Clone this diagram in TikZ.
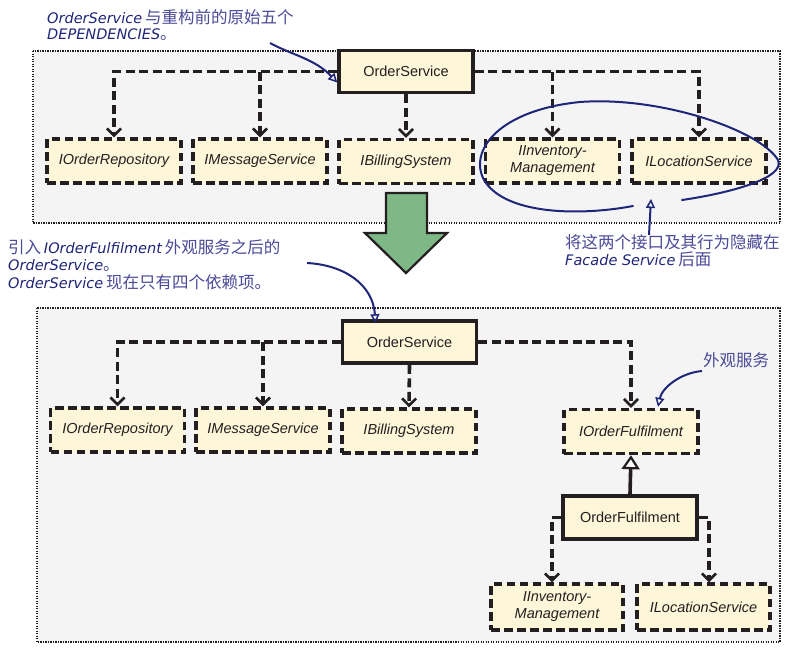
\documentclass[tikz,border=0pt]{standalone}
\usepackage{fontspec}
\setmainfont{Liberation Sans}
\newfontfamily\cjk{Noto Sans CJK SC}
\newfontfamily\hand{DejaVu Sans}
\usetikzlibrary{arrows.meta}
\definecolor{boxfill}{HTML}{FDF6D9}
\definecolor{contfill}{HTML}{F4F4F4}
\definecolor{ink}{HTML}{231F20}
\definecolor{handcol}{HTML}{1F2578}
\definecolor{zhcol}{HTML}{4C4A98}
\definecolor{arrowgreen}{HTML}{7DB886}
\newcommand\zh[1]{{\cjk\fontsize{16.5}{18}\selectfont\color{zhcol}#1}}
\newcommand\hw[1]{{\hand\itshape\fontsize{14.5}{18}\selectfont\color{handcol}#1}}
\tikzset{
  container/.style={draw=ink, fill=contfill, line width=2.8pt, dash pattern=on 1.2pt off 1.3pt},
  ifacebox/.style={draw=ink, fill=boxfill, line width=3.4pt, dash pattern=on 8.5pt off 4.5pt,
     minimum width=134pt, minimum height=44pt, inner sep=0pt, align=center,
     font=\fontsize{14.5}{17}\selectfont\itshape, text=ink},
  classbox/.style={draw=ink, fill=boxfill, line width=3.6pt, solid,
     minimum width=134pt, minimum height=42pt, inner sep=0pt,
     font=\fontsize{14.5}{17}\selectfont, text=ink},
  dep/.style={draw=ink, line width=3.6pt, dash pattern=on 9pt off 4.5pt,
     -{Straight Barb[length=7pt,width=14pt,line width=2.6pt]}},
  gen/.style={draw=ink, line width=3.6pt, -{Triangle[open,fill=white,length=14pt,width=18pt,line width=2.2pt]}},
  note/.style={inner sep=0pt, anchor=west},
  notearrow/.style={draw=handcol, line width=2pt, -{Triangle[open,length=9pt,width=9pt,line width=1.5pt]}},
}
\begin{document}
\begin{tikzpicture}[x=1pt,y=-1pt]
\useasboundingbox (0,0) rectangle (796,654);
\fill[white] (0,0) rectangle (796,654);

% containers
\path[container] (33,51) rectangle (780,223);
\path[container] (37,308) rectangle (780,642);

% top diagram
\node[classbox] (topOS) at (406,71.5) {OrderService};
\node[ifacebox] (t1) at (114,161) {IOrderRepository};
\node[ifacebox] (t2) at (260,161) {IMessageService};
\node[ifacebox] (t3) at (406,161.5) {IBillingSystem};
\node[ifacebox] (t4) at (552.5,161) {IInventory-\\Management};
\node[ifacebox] (t5) at (699,161) {ILocationService};

\draw[dep] (topOS.west) -| (t1.north);
\draw[dep] (t2.north |- topOS.west) -- (t2.north);
\draw[dep] (topOS.south) -- (t3.north);
\draw[dep] (topOS.east) -| (t5.north);
\draw[dep] (t4.north |- topOS.east) -- (t4.north);

% green arrow
\draw[fill=arrowgreen, draw=ink, line width=2.2pt, line join=miter]
  (386,193) -- (427,193) -- (427,233) -- (447,233) -- (406,273) -- (365,233) -- (386,233) -- cycle;

% bottom diagram
\node[classbox] (bOS) at (409.5,342) {OrderService};
\node[ifacebox] (b1) at (117.5,430) {IOrderRepository};
\node[ifacebox] (b2) at (263,430) {IMessageService};
\node[ifacebox] (b3) at (409,431) {IBillingSystem};
\node[ifacebox] (b4) at (631,431.5) {IOrderFulfilment};
\node[classbox, minimum height=43pt] (b5) at (630,517.5) {OrderFulfilment};
\node[ifacebox, minimum width=132pt, minimum height=46pt] (b6) at (557,607) {IInventory-\\Management};
\node[ifacebox, minimum width=133pt, minimum height=46pt] (b7) at (703.5,607) {ILocationService};

\draw[dep] (bOS.west) -| (b1.north);
\draw[dep] (b2.north |- bOS.west) -- (b2.north);
\draw[dep] (bOS.south) -- (b3.north);
\draw[dep] (bOS.east) -| (b4.north);
\draw[gen] (b5.north) -- (b4.south);
\draw[dep] (b5.west) -| ([xshift=-5pt]b6.north);
\draw[dep] (b5.east) -| ([xshift=5.5pt]b7.north);

% annotations
\node[note] (n1a) at (47,17) {\hw{OrderService} \zh{与重构前的原始五个}};
\node[note] (n1b) at (47,35) {\hw{DEPENDENCIES}\zh{。}};
\coordinate (n1s) at (270,43);
\draw[notearrow] (n1s) .. controls (292,55) and (315,59) .. ([yshift=-11pt]topOS.west);

\node[note] (n2a) at (8,247) {\zh{引入} \hw{IOrderFulfilment} \zh{外观服务之后的}};
\node[note] (n2b) at (8,265) {\hw{OrderService}\zh{。}};
\node[note] (n2c) at (8,282) {\hw{OrderService} \zh{现在只有四个依赖项。}};
\coordinate (n2s) at (307,263);
\draw[notearrow] (n2s) .. controls (345,265) and (373,285) .. ([xshift=-34pt,yshift=-4pt]bOS.north);

\node[note] (n3a) at (565,242) {\zh{将这两个接口及其行为隐藏在}};
\node[note] (n3b) at (565,259) {\hw{Facade Service} \zh{后面}};
\coordinate (n3s) at (649,235);
\coordinate (n3e) at (651,199);
\draw[notearrow] (n3s) -- (n3e);

% hand-drawn loop
\draw[handcol, line width=2pt, line cap=round]
  (633,206) .. controls (580,216) and (505,215) .. (484,180)
  .. controls (468,150) and (500,110) .. (580,102)
  .. controls (660,96) and (760,130) .. (778,160)
  .. controls (786,178) and (730,193) .. (682,200);

\node[note] (n4) at (703,360) {\zh{外观服务}};
\coordinate (n4s) at (702,371);
\draw[notearrow] (n4s) .. controls (680,373) and (662,388) .. ([xshift=27pt,yshift=1pt]b4.north);

\end{tikzpicture}
\end{document}
